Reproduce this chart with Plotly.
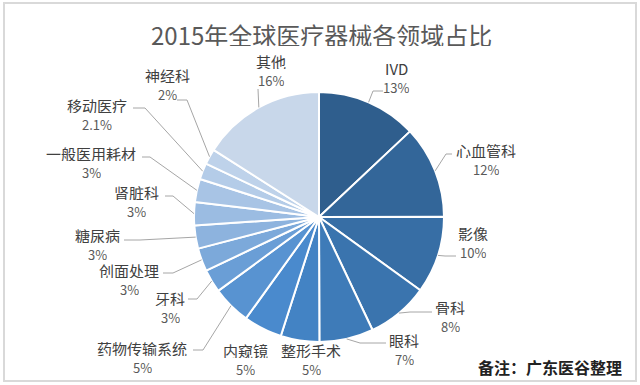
import math
import plotly.graph_objects as go

# ---- data ----
categories = ["IVD", "心血管科", "影像", "骨科", "眼科", "整形手术", "内窥镜", "药物传输系统",
              "牙科", "创面处理", "糖尿病", "肾脏科", "一般医用耗材", "移动医疗", "神经科", "其他"]
values = [13, 12, 10, 8, 7, 5, 5, 5, 3, 3, 3, 3, 3, 2.1, 2, 16]
pct_labels = ["13%", "12%", "10%", "8%", "7%", "5%", "5%", "5%",
              "3%", "3%", "3%", "3%", "3%", "2.1%", "2%", "16%"]
title_text = "2015年全球医疗器械各领域占比"
note_text = "备注：广东医谷整理"

# ---- style / layout ----
W, H = 640, 385
colors = ["#2F5E8D", "#336699", "#376EA5", "#3A74AE", "#3E7BB8", "#4383C4", "#4A8ACD", "#5893D1",
          "#6A9ED6", "#7CA9DA", "#8DB3DE", "#9BBCE2", "#A8C4E5", "#B4CCE8", "#BED2EA", "#C8D7EA"]
CX, CY, R = 319, 217, 125  # pie centre / radius in pixels

# label placement (pixels): name centre x, name centre y
label_xy = [(396, 68), (486, 150), (473, 233), (450, 307), (404, 340), (311, 350), (245, 350),
            (142, 348), (170, 298), (129, 270), (97, 235), (136, 192), (91, 153), (97, 105),
            (167, 75), (271, 61)]
# leader: (attach x, attach y, elbow x) or None
leaders = [(383, 91, 373), (452, 154, 446), (456, 256, 445), (432, 312, 410), (386, 343, 360),
           None, None, (193, 350, 203), (188, 299, 197), (163, 273, 173), (124, 240, 140),
           (165, 196, 173), (142, 157, 150), (133, 108, 145), (177, 100, 187), (258, 89, 258)]


def px(x):
    return x / W


def py(y):
    return 1 - y / H


fig = go.Figure(go.Pie(
    labels=categories, values=values, sort=False, direction="clockwise", rotation=0,
    marker=dict(colors=colors, line=dict(color="white", width=2)),
    textinfo="none", hoverinfo="label+value", showlegend=False,
    domain=dict(x=[px(CX - R), px(CX + R)], y=[py(CY + R), py(CY - R)]),
))

total = sum(values)
shapes = [dict(type="rect", xref="paper", yref="paper", x0=px(4), x1=px(636), y0=py(381), y1=py(3),
               line=dict(color="#D9D9D9", width=2), layer="below")]
annotations = [dict(text=title_text, x=px(321), y=py(34), xref="paper", yref="paper",
                    showarrow=False, xanchor="center", yanchor="middle", height=24,
                    font=dict(size=24, color="#595959", family="Noto Sans CJK SC")),
               dict(text="<b>" + note_text + "</b>", x=px(624), y=py(367), xref="paper", yref="paper",
                    showarrow=False, xanchor="right", yanchor="middle", height=18,
                    font=dict(size=16, color="#222222", family="Noto Sans CJK SC"))]

cum = 0
for i, v in enumerate(values):
    mid = (cum + v / 2) / total * 2 * math.pi
    cum += v
    ex = CX + R * math.sin(mid)
    ey = CY - R * math.cos(mid)
    lx, ly = label_xy[i]
    annotations.append(dict(text=categories[i], x=px(lx), y=py(ly), xref="paper", yref="paper",
                            showarrow=False, xanchor="center", yanchor="middle", height=16,
                            font=dict(size=15, color="#404040", family="Noto Sans CJK SC")))
    annotations.append(dict(text=pct_labels[i], x=px(lx), y=py(ly + 19), xref="paper", yref="paper",
                            showarrow=False, xanchor="center", yanchor="middle", height=14,
                            font=dict(size=13, color="#595959", family="Noto Sans CJK SC")))
    if leaders[i] is not None:
        axp, ayp, elx = leaders[i]
        path = f"M {px(ex)} {py(ey)} L {px(elx)} {py(ayp)} L {px(axp)} {py(ayp)}"
        shapes.append(dict(type="path", xref="paper", yref="paper", path=path,
                           line=dict(color="#A6A6A6", width=1)))

fig.update_layout(width=W, height=H, margin=dict(l=0, r=0, t=0, b=0),
                  paper_bgcolor="white", plot_bgcolor="white",
                  shapes=shapes, annotations=annotations)
fig.write_html("out.html", config={"displayModeBar": False},
               post_script="document.body.style.margin='0';document.body.style.overflow='hidden';")
